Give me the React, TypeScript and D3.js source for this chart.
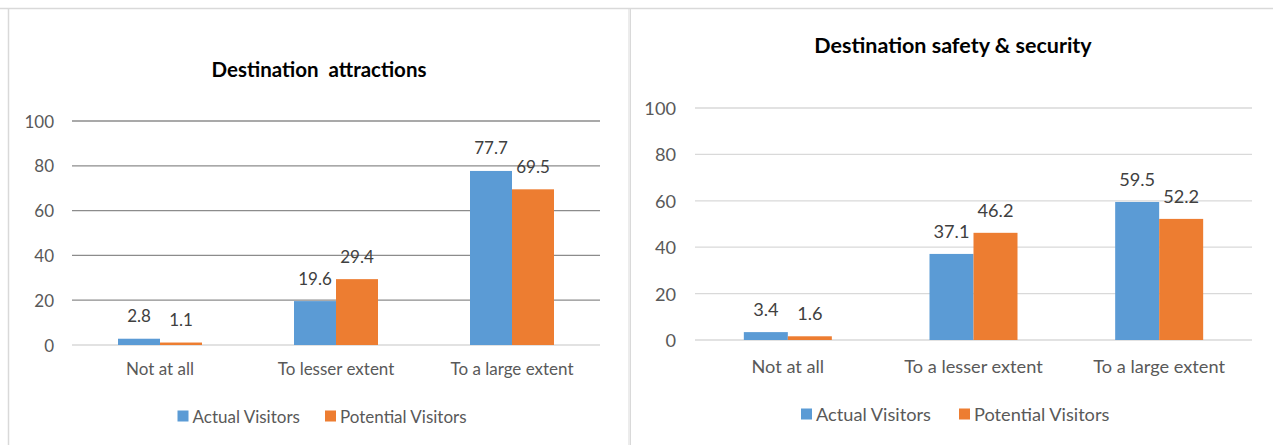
import React from "react";
import * as d3 from "d3";

const seriesNames = ["Actual Visitors", "Potential Visitors"];
const seriesColors = ["#5B9BD5", "#ED7D31"];
const yTicks = [0, 20, 40, 60, 80, 100];

const attractionsCategories = ["Not at all", "To lesser extent", "To a large extent"];
const attractionsActual = [2.8, 19.6, 77.7];
const attractionsPotential = [1.1, 29.4, 69.5];

const safetyCategories = ["Not at all", "To a lesser extent", "To a large extent"];
const safetyActual = [3.4, 37.1, 59.5];
const safetyPotential = [1.6, 46.2, 52.2];

const FONT = "Lato, 'Open Sans', sans-serif";
const TEXT = "#595959";

type Panel = {
  title: string;
  categories: string[];
  values: number[][];
  x0: number;
  x1: number;
  yTop: number;
  yBottom: number;
  titleX: number;
  titleY: number;
  titleSize: number;
  tickRight: number;
  fontSize: number;
  catY: number;
  legendY: number;
  legendX: number[];
  gridColor: string;
  barWidth: number;
};

const panels: Panel[] = [
  {
    title: "Destination  attractions",
    categories: attractionsCategories,
    values: [attractionsActual, attractionsPotential],
    x0: 72, x1: 600, yTop: 121, yBottom: 345,
    titleX: 319, titleY: 69, titleSize: 20.5,
    tickRight: 54, fontSize: 17, catY: 368, legendY: 416,
    legendX: [177.5, 325], gridColor: "#8c8c8c", barWidth: 42,
  },
  {
    title: "Destination safety & security",
    categories: safetyCategories,
    values: [safetyActual, safetyPotential],
    x0: 695, x1: 1252, yTop: 108, yBottom: 340,
    titleX: 953, titleY: 45, titleSize: 21.5,
    tickRight: 676, fontSize: 18.2, catY: 366, legendY: 414,
    legendX: [801, 959], gridColor: "#d9d9d9", barWidth: 44,
  },
];

function ChartPanel({ p }: { p: Panel }) {
  const x = d3.scaleBand<string>().domain(p.categories).range([p.x0, p.x1]);
  const y = d3.scaleLinear().domain([0, 100]).range([p.yBottom, p.yTop]);
  const sub = d3
    .scaleBand<string>()
    .domain(seriesNames)
    .range([0, p.barWidth * 2]);
  return (
    <g fontFamily={FONT}>
      <text x={p.titleX} y={p.titleY} textAnchor="middle" dominantBaseline="central"
        fontWeight="bold" fontSize={p.titleSize} fill="#000"
        style={{ whiteSpace: "pre" }}>{p.title}</text>
      {yTicks.map((t) => (
        <g key={t}>
          <line x1={p.x0} x2={p.x1} y1={y(t)} y2={y(t)}
            stroke={t === 0 ? "#d9d9d9" : p.gridColor} strokeWidth={1.3} />
          <text x={p.tickRight} y={y(t)} textAnchor="end" dominantBaseline="central"
            fontSize={p.fontSize} fill={TEXT}>{t}</text>
        </g>
      ))}
      {p.categories.map((c, ci) => {
        const center = (x(c) as number) + x.bandwidth() / 2;
        const gx = center - p.barWidth;
        return (
          <g key={c}>
            {seriesNames.map((s, si) => {
              const v = p.values[si][ci];
              const bx = gx + (sub(s) as number);
              return (
                <g key={s}>
                  <rect x={bx} y={y(v)} width={sub.bandwidth()} height={y(0) - y(v)}
                    fill={seriesColors[si]} />
                  <text x={bx + sub.bandwidth() / 2} y={y(v) - 23} textAnchor="middle"
                    dominantBaseline="central" fontSize={p.fontSize} fill="#404040">
                    {v.toFixed(1)}
                  </text>
                </g>
              );
            })}
            <text x={center} y={p.catY} textAnchor="middle" dominantBaseline="central"
              fontSize={p.fontSize} fill={TEXT}>{c}</text>
          </g>
        );
      })}
      {seriesNames.map((s, si) => (
        <g key={s}>
          <rect x={p.legendX[si]} y={p.legendY - 5.5} width={11} height={11} fill={seriesColors[si]} />
          <text x={p.legendX[si] + 15} y={p.legendY} dominantBaseline="central"
            fontSize={p.fontSize} fill={TEXT}>{s}</text>
        </g>
      ))}
    </g>
  );
}

export default function App() {
  return (
    <div style={{ position: "absolute", left: 0, top: 0 }}>
      <svg width={1273} height={445} style={{ display: "block", background: "#fff" }}>
        <line x1={0} x2={1273} y1={8.5} y2={8.5} stroke="#d9d9d9" strokeWidth={1.5} />
        <line x1={8.5} x2={8.5} y1={8.5} y2={445} stroke="#d9d9d9" strokeWidth={1.5} />
        <line x1={629} x2={629} y1={8.5} y2={445} stroke="#d9d9d9" strokeWidth={1} />
        <line x1={630.5} x2={630.5} y1={8.5} y2={445} stroke="#d9d9d9" strokeWidth={1} />
        {panels.map((p) => (
          <ChartPanel key={p.title} p={p} />
        ))}
      </svg>
    </div>
  );
}
